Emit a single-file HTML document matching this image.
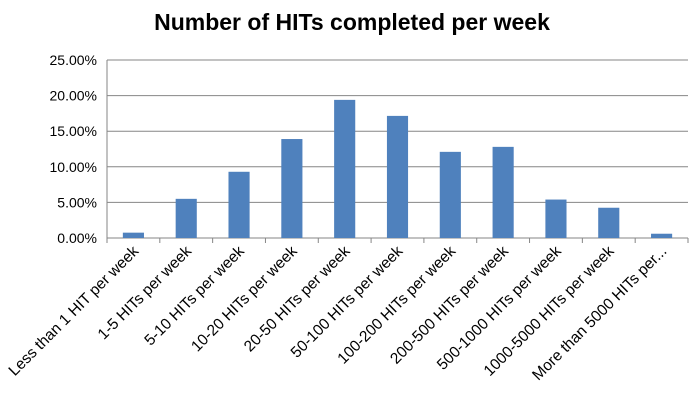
<!DOCTYPE html>
<html><head><meta charset="utf-8"><style>
body{margin:0;background:#fff;font-family:"Liberation Sans",sans-serif}
svg text{font-family:"Liberation Sans",sans-serif}
</style></head><body>
<svg width="697" height="407">
<text x="352" y="30" text-anchor="middle" font-size="23" font-weight="bold">Number of HITs completed per week</text>
<g id="g"></g>
</svg>
<script>
const categories=["Less than 1 HIT per week","1-5 HITs per week","5-10 HITs per week","10-20 HITs per week","20-50 HITs per week","50-100 HITs per week","100-200 HITs per week","200-500 HITs per week","500-1000 HITs per week","1000-5000 HITs per week","More than 5000 HITs per..."];
const values=[0.75,5.5,9.3,13.9,19.4,17.15,12.1,12.8,5.4,4.25,0.6];
const ticks=[0,5,10,15,20,25];
const L=107,R=688,T=60,B=238,max=25;
const y=v=>B-(v/max)*(B-T);
const bw=(R-L)/categories.length;
const x=i=>L+bw*i;
const g=document.getElementById('g');
const NS='http://www.w3.org/2000/svg';
function mk(t,a){const e=document.createElementNS(NS,t);for(const k in a)e.setAttribute(k,a[k]);g.appendChild(e);return e;}
ticks.forEach(t=>{
 const l=mk('line',{x1:L,x2:R,y1:y(t),y2:y(t),stroke:'#868686','stroke-width':1});
 
 
 const tx=mk('text',{x:L-10,y:y(t)+5,'text-anchor':'end','font-size':14});
 tx.textContent=t.toFixed(2)+'%';
 
 
});
const ax=mk('line',{x1:L,x2:L,y1:T,y2:B,stroke:'#868686'});


for(let i=0;i<=categories.length;i++){
 const tk=mk('line',{x1:x(i),x2:x(i),y1:B,y2:B+5,stroke:'#868686'});
 
 
}
values.forEach((v,i)=>{
 const w=bw*0.4;
 const r=mk('rect',{x:x(i)+bw/2-w/2,y:y(v),width:w,height:B-y(v),fill:'#4f81bd'});
 
 
 const cx=x(i)+bw/2+6, cy=B+14;
 const t=mk('text',{x:cx,y:cy,'text-anchor':'end','font-size':15.5,transform:`rotate(-45 ${cx} ${cy})`});
 t.textContent=categories[i];
 
 
});
</script>
</body></html>
